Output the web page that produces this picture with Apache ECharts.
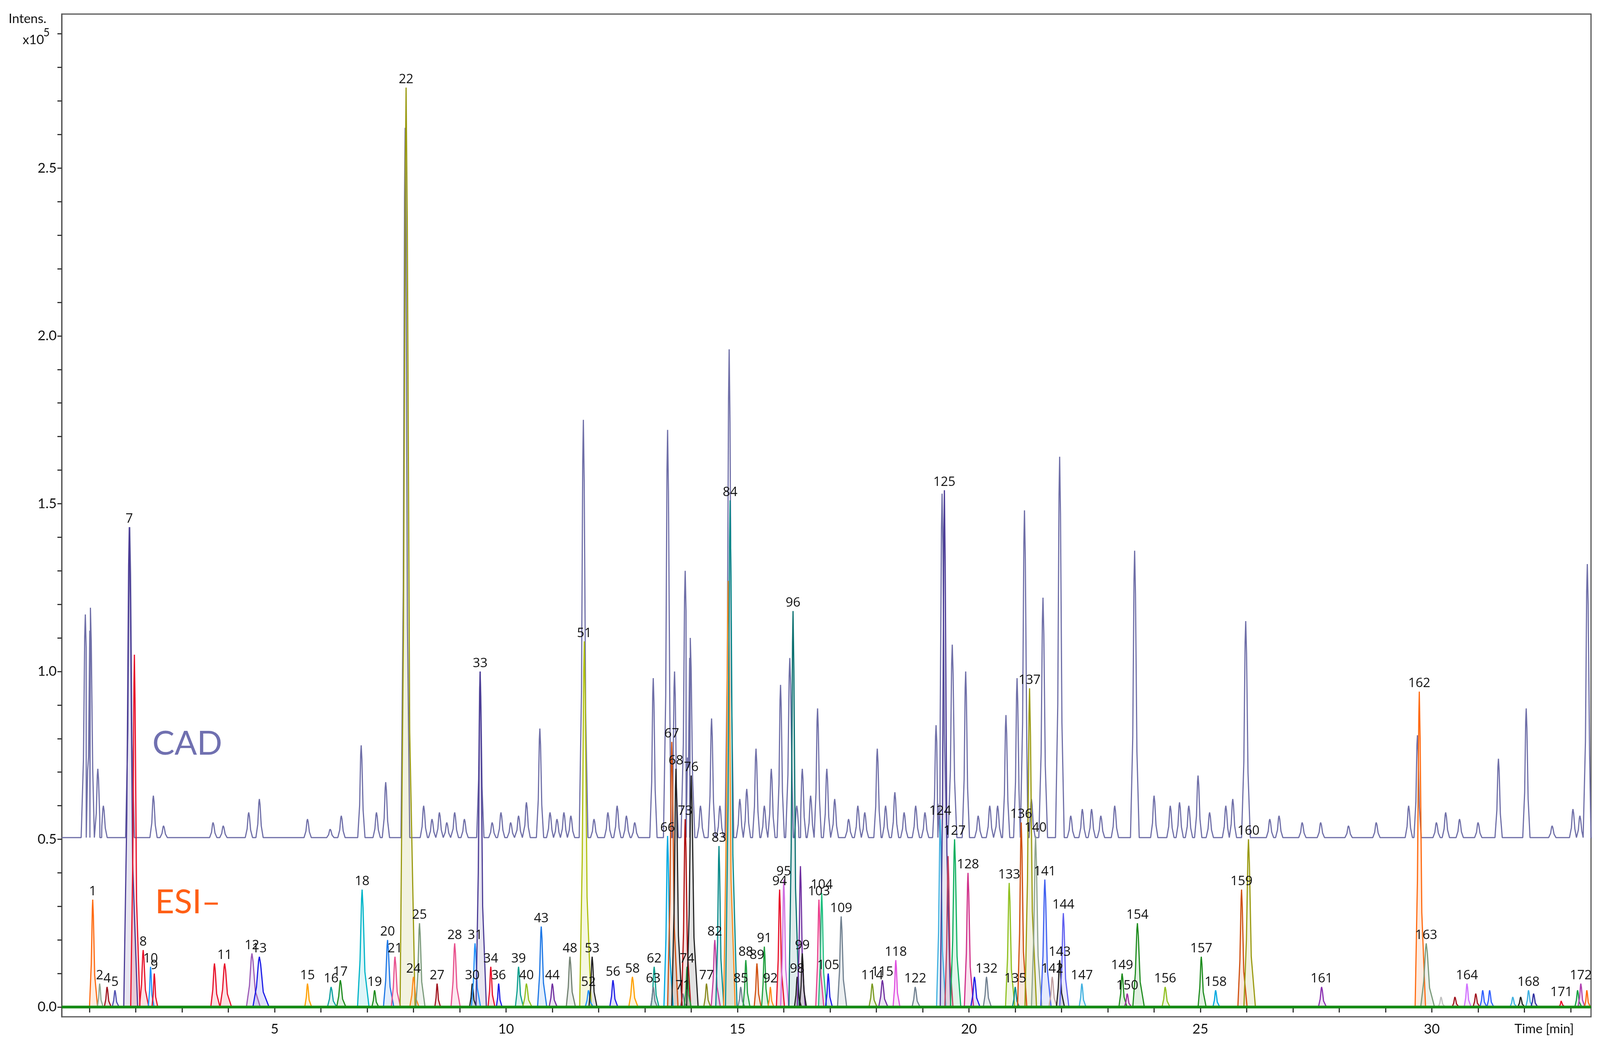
<!DOCTYPE html>
<html>
<head>
<meta charset="utf-8">
<script src="https://cdn.jsdelivr.net/npm/echarts@6/dist/echarts.min.js"></script>
<style>
html,body{margin:0;padding:0;background:#fff;overflow:hidden;}
#chart{width:100vw;height:100vh;}
</style>
</head>
<body>
<div id="chart"></div>
<script>
// CAD trace: baseline ~0.505, peaks [time, intensity]
var cadBase = 0.505;
var cadPeaks = [
  [0.91,1.17],[1.02,1.19],[1.18,0.71],[1.3,0.6],[1.87,1.43],[2.38,0.63],[2.6,0.54],
  [3.67,0.55],[3.89,0.54],[4.44,0.58],[4.67,0.62],[5.71,0.56],[6.2,0.53],[6.44,0.57],
  [6.87,0.78],[7.2,0.58],[7.4,0.67],[7.82,2.62],[8.22,0.6],[8.4,0.56],[8.56,0.58],
  [8.72,0.55],[8.89,0.58],[9.1,0.56],[9.44,1.0],[9.7,0.55],[9.89,0.58],[10.1,0.55],
  [10.27,0.57],[10.44,0.61],[10.73,0.83],[10.95,0.58],[11.1,0.56],[11.25,0.58],[11.4,0.57],
  [11.67,1.75],[11.9,0.56],[12.2,0.58],[12.4,0.6],[12.6,0.57],[12.78,0.55],[13.18,0.98],
  [13.49,1.72],[13.64,1.0],[13.87,1.3],[13.98,1.1],[14.2,0.6],[14.44,0.86],[14.62,0.6],
  [14.82,1.96],[15.05,0.62],[15.2,0.65],[15.4,0.77],[15.58,0.6],[15.73,0.71],[15.93,0.96],
  [16.13,1.04],[16.28,0.6],[16.4,0.71],[16.58,0.63],[16.73,0.89],[16.93,0.71],[17.1,0.62],
  [17.4,0.56],[17.6,0.6],[17.75,0.58],[18.02,0.77],[18.2,0.6],[18.4,0.64],[18.6,0.58],
  [18.85,0.6],[19.05,0.58],[19.29,0.84],[19.42,1.53],[19.64,1.08],[19.93,1.0],[20.2,0.57],
  [20.45,0.6],[20.62,0.6],[20.8,0.87],[21.04,0.98],[21.2,1.48],[21.35,0.62],[21.6,1.22],
  [21.96,1.64],[22.2,0.57],[22.45,0.59],[22.65,0.59],[22.85,0.57],[23.15,0.6],[23.58,1.36],
  [24.0,0.63],[24.35,0.6],[24.55,0.61],[24.75,0.6],[24.95,0.69],[25.2,0.58],[25.55,0.6],
  [25.7,0.62],[25.98,1.15],[26.5,0.56],[26.7,0.57],[27.2,0.55],[27.6,0.55],[28.2,0.54],
  [28.8,0.55],[29.5,0.6],[29.69,0.81],[30.1,0.55],[30.3,0.58],[30.6,0.56],[31.0,0.55],
  [31.44,0.74],[32.04,0.89],[32.6,0.54],[33.05,0.59],[33.2,0.57],[33.36,1.32]
];

// ESI- peaks: [label, time, intensity, half width]
var esiPeaks = [
  ['1',1.07,0.32,0.07],['2',1.22,0.07,0.05],['4',1.38,0.06,0.06],['5',1.55,0.05,0.06],
  ['7',1.86,1.43,0.12],['',1.97,1.05,0.08],['8',2.16,0.17,0.08],['10',2.32,0.12,0.05],['9',2.4,0.1,0.05],
  ['',3.7,0.13,0.08],['11',3.92,0.13,0.1],['12',4.51,0.16,0.12],['13',4.67,0.15,0.14],
  ['15',5.71,0.07,0.06],['16',6.22,0.06,0.08],['17',6.42,0.08,0.08],['18',6.89,0.35,0.1],
  ['19',7.16,0.05,0.06],['20',7.44,0.2,0.09],['21',7.6,0.15,0.08],['22',7.84,2.74,0.13],
  ['24',8.0,0.09,0.08],['25',8.13,0.25,0.08],['27',8.51,0.07,0.05],['28',8.89,0.19,0.08],
  ['30',9.27,0.07,0.06],['31',9.33,0.19,0.08],['33',9.44,1.0,0.09],['34',9.67,0.12,0.06],
  ['36',9.84,0.07,0.05],['39',10.27,0.12,0.07],['40',10.44,0.07,0.08],['43',10.76,0.24,0.08],
  ['44',11.0,0.07,0.07],['48',11.38,0.15,0.08],['51',11.69,1.09,0.1],['52',11.78,0.05,0.07],
  ['53',11.86,0.15,0.07],['56',12.31,0.08,0.07],['58',12.73,0.09,0.08],['62',13.2,0.12,0.07],
  ['63',13.18,0.06,0.06],['66',13.49,0.51,0.08],['67',13.58,0.79,0.09],['68',13.67,0.71,0.09],
  ['71',13.82,0.04,0.06],['73',13.87,0.56,0.08],['74',13.91,0.12,0.06],['76',14.0,0.69,0.1],
  ['77',14.33,0.07,0.06],['82',14.51,0.2,0.08],['83',14.6,0.48,0.07],['',14.8,1.27,0.1],
  ['84',14.84,1.51,0.1],['85',15.07,0.06,0.06],['88',15.18,0.14,0.06],['89',15.42,0.13,0.06],
  ['91',15.58,0.18,0.06],['92',15.71,0.06,0.05],['94',15.91,0.35,0.07],['95',16.0,0.38,0.07],
  ['96',16.2,1.18,0.09],['98',16.29,0.09,0.06],['',16.36,0.42,0.07],['99',16.4,0.16,0.06],
  ['103',16.76,0.32,0.07],['104',16.82,0.34,0.07],['105',16.96,0.1,0.06],['109',17.24,0.27,0.08],
  ['114',17.91,0.07,0.07],['115',18.13,0.08,0.08],['118',18.42,0.14,0.06],['122',18.84,0.06,0.07],
  ['124',19.38,0.56,0.08],['125',19.47,1.54,0.09],['',19.55,0.45,0.07],['127',19.69,0.5,0.09],
  ['128',19.98,0.4,0.08],['',20.12,0.09,0.08],['132',20.38,0.09,0.07],['133',20.87,0.37,0.08],
  ['135',21.0,0.06,0.06],['136',21.13,0.55,0.08],['137',21.31,0.95,0.1],['140',21.44,0.51,0.09],
  ['141',21.64,0.38,0.09],['142',21.8,0.09,0.07],['143',21.96,0.14,0.07],['144',22.04,0.28,0.08],
  ['147',22.44,0.07,0.06],['149',23.31,0.1,0.07],['150',23.42,0.04,0.06],['154',23.64,0.25,0.1],
  ['156',24.24,0.06,0.07],['157',25.02,0.15,0.07],['158',25.33,0.05,0.06],['159',25.89,0.35,0.08],
  ['160',26.04,0.5,0.1],['161',27.62,0.06,0.07],['162',29.73,0.94,0.09],['163',29.88,0.19,0.12],
  ['',30.2,0.03,0.06],['',30.5,0.03,0.06],['164',30.76,0.07,0.06],['',30.95,0.04,0.06],
  ['',31.1,0.05,0.06],['',31.25,0.05,0.06],['',31.75,0.03,0.06],['',31.92,0.03,0.06],
  ['168',32.09,0.05,0.06],['',32.2,0.04,0.06],['171',32.8,0.02,0.05],['',33.15,0.05,0.06],
  ['172',33.22,0.07,0.06],['',33.35,0.05,0.05]
];

var palette = ['#ff6a10','#8fa58f','#a0141e','#5050b0','#4b3c96','#e8102a','#e8102a','#1e90ff','#e8102a',
  '#e8102a','#e8102a','#9b59b6','#1a1ae6','#ffa000','#0fa0a0','#1e8c1e','#00b4c8','#1e8c1e',
  '#1e78e6','#e8508c','#9a9a10','#ff8c1e','#7a9a7a','#a0141e','#e8508c','#222222','#1e90ff',
  '#4b3c96','#e8102a','#1e1ee6','#0fa090','#90c020','#1e78e6','#7030a0','#708070','#b0c010',
  '#1e90ff','#222222','#1e1ee6','#ffa000','#0fa090','#708090','#00a8e0','#d05010','#222222',
  '#708090','#b01010','#20a040','#222222','#8a8a20','#c040a0','#0a8a8a','#ff8c1e','#0a8a8a',
  '#708090','#20a040','#d05010','#20a040','#ff8c1e','#e8102a','#d070e0','#0a7070','#222222',
  '#7030a0','#222222','#e8408c','#20c080','#1e1ee6','#708090','#7a9a20','#7030a0','#e050e0',
  '#708090','#40b0e0','#4b3c96','#c04060','#10b060','#d0308a','#1e1ee6','#708090','#90c020',
  '#0a8a8a','#d05010','#9a9a10','#8fa58f','#4060f0','#c0a0a0','#222222','#6060f0','#40b0e0',
  '#1e8c1e','#a030a0','#1e8c1e','#90c020','#1e8c1e','#00a8e0','#d05010','#9a9a10','#8a30b0',
  '#ff6a10','#7a9a7a','#c0c0c0','#a0141e','#d070ff','#a0141e','#3060ff','#3060ff','#40b0e0',
  '#222222','#40b0e0','#3030a0','#e8102a','#10a040','#b040b0'];

var xTickVals = [], xLabelVals = [5,10,15,20,25,30];
for (var i = 1; i <= 33; i++) xTickVals.push(i);
var yTickVals = [], yLabelVals = [0,0.5,1.0,1.5,2.0,2.5];
for (var j = 0; j <= 29; j++) yTickVals.push(+(j*0.1).toFixed(1));

// page is laid out for 4411x2688, scale to actual window
var S = window.innerWidth / 4411, SY = window.innerHeight / 2688;
function px(v){ return Math.round(v * S); }
function py(v){ return Math.round(v * SY); }

// build CAD line
var cadData = [[0.4, cadBase]];
cadPeaks.forEach(function(p){
  var w = p[1] > 1.0 ? 0.09 : 0.075;
  var d = p[1] - cadBase;
  cadData.push([p[0]-w, cadBase], [p[0]-w*0.45, cadBase+d*0.35], [p[0]-w*0.15, cadBase+d*0.9], [p[0], p[1]],
    [p[0]+w*0.2, cadBase+d*0.85], [p[0]+w*0.55, cadBase+d*0.3], [p[0]+w*1.1, cadBase]);
});
cadData.push([33.44, cadBase]);
cadData.sort(function(a,b){return a[0]-b[0];});

var series = [];
esiPeaks.forEach(function(p, k){
  var c = palette[k % palette.length];
  var t = p[1], h = p[2], w = p[3];
  series.push({
    type: 'line', silent: true, symbol: 'none', z: 3,
    data: [[t-w,0],[t-w*0.45,h*0.4],[t-w*0.12,h*0.92],[t,h],[t+w*0.2,h*0.85],[t+w*0.6,h*0.3],[t+w*1.5,0]],
    lineStyle: {color: c, width: px(3)},
    areaStyle: {color: c, opacity: 0.13},
    markPoint: p[0] === '' ? undefined : {
      symbol: 'circle', symbolSize: 0, silent: true,
      data: [{coord: [t, h], value: p[0]}],
      label: {show: true, position: 'top', distance: py(4), formatter: p[0], color: '#111', fontSize: px(36), fontFamily: 'Open Sans'}
    }
  });
});
series.push({
  type: 'line', name: 'CAD', silent: true, symbol: 'none', z: 2,
  data: cadData, lineStyle: {color: '#6f6fa8', width: px(3.5)}
});
series.push({
  type: 'line', silent: true, symbol: 'none', z: 4,
  data: [[0.4,0],[33.44,0]], lineStyle: {color: '#138a13', width: px(7)}
});

var chart = echarts.init(document.getElementById('chart'));
chart.setOption({
  animation: false,
  backgroundColor: '#fff',
  grid: {left: px(170), right: px(25), top: py(36), bottom: py(85), show: true, borderColor: '#555', borderWidth: px(3)},
  xAxis: {
    type: 'value', min: 0.4, max: 33.44,
    axisLine: {lineStyle: {color: '#555', width: px(3)}},
    axisTick: {show: true, length: py(14), customValues: xTickVals, lineStyle: {color: '#333', width: px(3)}},
    axisLabel: {customValues: xLabelVals, color: '#111', fontSize: px(38), fontFamily: 'Lato', margin: py(14)},
    splitLine: {show: false}
  },
  yAxis: {
    type: 'value', min: -0.029, max: 2.959,
    axisLine: {show: true, lineStyle: {color: '#555', width: px(3)}},
    axisTick: {show: true, length: px(12), customValues: yTickVals, lineStyle: {color: '#333', width: px(3)}},
    axisLabel: {customValues: yLabelVals, color: '#111', fontSize: px(38), fontFamily: 'Lato', margin: px(14),
      formatter: function(v){return v.toFixed(1);}},
    splitLine: {show: false}
  },
  graphic: [
    {type: 'text', left: px(24), top: py(32), style: {text: 'Intens.', fontSize: px(36), fontFamily: 'Lato', fill: '#111'}},
    {type: 'text', left: px(62), top: py(86), style: {text: 'x10', fontSize: px(36), fontFamily: 'Lato', fill: '#111'}},
    {type: 'text', left: px(120), top: py(70), style: {text: '5', fontSize: px(30), fontFamily: 'Lato', fill: '#111'}},
    {type: 'text', left: px(4175), top: py(2618), style: {text: 'Time [min]', fontSize: px(36), fontFamily: 'Lato', fill: '#111'}},
    {type: 'text', left: px(420), top: py(1862), style: {text: 'CAD', fontSize: px(92), fontFamily: 'Lato', fill: '#7070b0'}},
    {type: 'text', left: px(428), top: py(2268), style: {text: 'ESI\u2013', fontSize: px(92), fontFamily: 'Lato', fill: '#ff5f15'}}
  ],
  series: series
});
</script>
</body>
</html>
